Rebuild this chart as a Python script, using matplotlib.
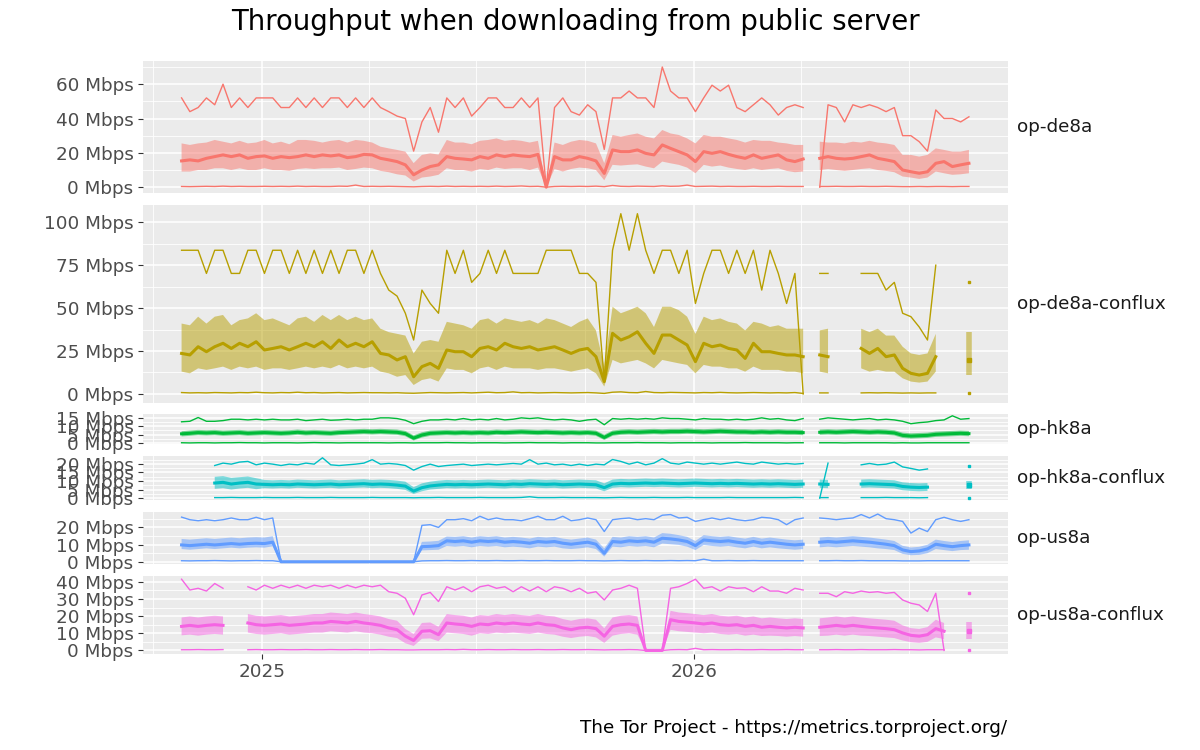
import numpy as np
import matplotlib
matplotlib.use('Agg')
from matplotlib import pyplot as plt
from matplotlib.ticker import MultipleLocator, FuncFormatter

nan = float('nan')

# weekly samples, first week = 2024-10-25
start_date = '2024-10-25'
n_weeks = 96

servers = ['op-de8a', 'op-de8a-conflux', 'op-hk8a', 'op-hk8a-conflux', 'op-us8a', 'op-us8a-conflux']
colors = ['#F8766D', '#B79F00', '#00BA38', '#00BFC4', '#619CFF', '#F564E3']
y_steps = [20, 25, 5, 5, 10, 10]
year_ticks = ['2025-01-01', '2026-01-01']
year_labels = ['2025', '2026']
quarter_lines = ['2024-10-01', '2025-04-01', '2025-07-01', '2025-10-01', '2026-04-01', '2026-07-01']

# ---- op-de8a
de8a_max = [52, 44, 46.4, 52, 48, 60, 46.4, 52, 46.4, 52, 52, 52,
            46.4, 46.4, 52, 46.4, 52, 46.4, 52, 52, 46.4, 52, 46.4, 52,
            46.4, 44, 41.4, 40, 21, 38, 46.4, 32, 52, 46.4, 52, 41.4,
            46.4, 52, 52, 46.4, 46.4, 52, 46.4, 52, 0, 46.4, 52, 44,
            42, 48, 44, 22, 52, 52, 56, 52, 52, 46.4, 70, 56,
            52, 52, 44, 52, 59.4, 56, 59.4, 46.4, 44, 48, 52, 48,
            42, 46.4, 48, 46.4, nan, 0, 48, 46.4, 38, 48, 46.4, 48,
            46.4, 44, 46.4, 30, 30, 26.5, 21, 45, 40, 40, 38, 41]
de8a_q3 = [25.5, 24.6, 25.5, 26, 27.5, 26.5, 25.5, 27, 25.5, 26, 27.5, 25.5,
           26.5, 25, 27.5, 27.5, 27, 26, 27, 27.5, 26, 27.5, 27, 26,
           23.6, 22.6, 21.7, 20.7, 14, 18.8, 19.7, 19, 27.5, 26, 26, 25,
           27, 27.5, 28.4, 27, 27.5, 27, 26, 27, 0, 26, 24.6, 26.5,
           27.5, 27, 25.5, 14, 30.4, 29.4, 30.4, 31.3, 29.4, 28.4, 33.3, 31.3,
           30.4, 28.4, 25.5, 30.4, 29.4, 29.4, 28.4, 27.5, 26, 27.5, 27, 27,
           26, 25.5, 24.6, 24.6, nan, 26.5, 26, 26, 25.5, 26.5, 26, 27,
           26, 25.5, 24.6, 18.8, 18.8, 17.8, 18.8, 22.6, 21.7, 20.7, 20.7, 21.7]
de8a_med = [15.3, 15.9, 15.3, 16.8, 17.8, 18.8, 17.8, 18.8, 16.8, 17.8, 18.2, 16.8,
            17.8, 17.2, 17.8, 18.8, 17.8, 18.8, 18.2, 18.8, 17.2, 17.8, 19.1, 18.8,
            16.8, 15.9, 14.9, 13, 7.2, 10, 12, 13, 17.8, 16.8, 16.4, 15.9,
            17.8, 16.8, 18.8, 17.8, 18.8, 18.2, 17.8, 19.1, 0, 17.8, 15.9, 15.9,
            17.8, 16.8, 15.3, 8, 21.7, 20.7, 20.7, 21.7, 19.7, 18.8, 24.6, 22.6,
            20.7, 18.8, 14.9, 20.7, 19.7, 20.7, 19.1, 17.8, 16.8, 18.8, 16.8, 17.8,
            18.8, 15.9, 14.9, 16.4, nan, 16.8, 17.8, 16.8, 16.4, 16.8, 17.8, 18.8,
            16.8, 15.9, 14.9, 10, 9, 8.1, 9, 13.9, 14.9, 12, 13, 13.9]
de8a_q1 = [9.1, 9.1, 10, 10, 11, 11, 10, 11, 10, 10, 11, 10,
           10, 9.5, 10.6, 11, 10.6, 11, 11, 11.4, 10, 10.6, 11.4, 11,
           9.5, 8.7, 7.5, 6.8, 3.3, 5.6, 6.2, 7.2, 11, 10, 10, 9.1,
           10.6, 10, 11.4, 10.6, 11, 11, 10, 11.4, 0, 10.6, 9.1, 10.6,
           11.4, 11, 10, 4, 13, 12.6, 13, 13.3, 12, 11, 14.9, 13.9,
           13, 11.4, 8.1, 13, 12, 12.6, 11.4, 10.6, 10, 11, 10, 10.6,
           11, 9.5, 8.7, 9.1, nan, 10, 10.6, 10, 9.5, 10, 10.6, 11,
           10, 9.5, 8.7, 6.2, 5.6, 4.8, 5.6, 9.1, 8.1, 7.2, 7.5, 8.1]
de8a_min = [0.4, 0.3, 0.4, 0.5, 0.4, 0.6, 0.4, 0.5, 0.4, 0.4, 0.5, 0.4,
            0.5, 0.4, 0.6, 0.4, 0.5, 0.4, 0.4, 0.6, 0.5, 1.2, 0.4, 0.5,
            0.4, 0.5, 0.4, 0.3, 0.2, 0.4, 0.5, 0.4, 0.6, 0.4, 0.5, 0.4,
            0.5, 0.4, 0.6, 0.4, 0.5, 0.7, 0.4, 0.5, 0, 0.4, 0.5, 0.4,
            0.5, 0.4, 0.6, 0.3, 1.0, 0.5, 0.4, 0.6, 0.5, 0.4, 0.8, 0.5,
            0.6, 1.2, 0.4, 0.5, 0.6, 0.4, 0.5, 0.4, 0.4, 0.5, 0.4, 0.4,
            0.5, 0.4, 0.4, 0.4, nan, 0.4, 0.4, 0.5, 0.4, 0.4, 0.5, 0.4,
            0.4, 0.5, 0.4, 0.3, 0.3, 0.4, 0.3, 0.4, 0.4, 0.3, 0.4, 0.4]

# ---- op-de8a-conflux
de8ac_max = [83.7, 83.7, 83.7, 70.2, 83.7, 83.7, 70.2, 70.2, 83.7, 83.7, 70.2, 83.7,
             83.7, 70.2, 83.7, 70.2, 83.7, 70.2, 83.7, 70.2, 83.7, 83.7, 70.2, 83.7,
             70.2, 60.5, 57, 47, 31.4, 60.5, 52.7, 47, 83.7, 70.2, 83.7, 65,
             70.2, 83.7, 70.2, 83.7, 70.2, 70.2, 70.2, 70.2, 83.7, 83.7, 83.7, 83.7,
             70.2, 70.2, 65, 8, 83.7, 105, 83.7, 105, 83.7, 70.2, 83.7, 83.7,
             70.2, 83.7, 52.7, 70.2, 83.7, 83.7, 70.2, 83.7, 70.2, 83.7, 60.5, 83.7,
             70.2, 52.7, 70.2, 0, nan, 70.2, 70.2, nan, nan, nan, 70.2, 70.2,
             70.2, 60.5, 65, 47, 45, 39, 31.4, 75, nan, nan, nan, 65]
de8ac_q3 = [41, 40, 45, 41, 45, 46, 40, 43, 44, 47, 43, 44,
            42, 40, 44, 45, 42, 46, 43, 46, 43, 45, 43, 44,
            38, 36, 35, 34, 23.6, 30.4, 31.4, 30.4, 42, 41, 40, 38,
            43, 44, 41, 44, 43, 42, 43, 41, 44, 43, 41, 39,
            42, 44, 37, 15.9, 50.8, 47, 48.8, 50.8, 47, 39, 50.8, 50.8,
            48.8, 45, 35, 45, 43, 44, 42, 41, 37, 42, 41, 39,
            40, 38, 38, 38, nan, 37, 38, nan, nan, nan, 38, 36,
            38, 34, 34, 27.5, 23.6, 22.7, 23.6, 35, nan, nan, nan, 36]
de8ac_med = [23.6, 22.7, 27.5, 24.6, 27.5, 29.5, 26.5, 29.5, 27.5, 30.4, 25.6, 26.5,
             27.5, 25.6, 27.5, 29.5, 27.5, 30.4, 26.5, 31.4, 27.5, 29.5, 27.5, 30.4,
             23.6, 22.7, 19.8, 21.7, 10, 15.9, 17.8, 14.9, 25.6, 24.6, 24.6, 21.7,
             26.5, 27.5, 25.6, 29.5, 27.5, 26.5, 27.5, 25.6, 26.5, 27.5, 25.6, 23.6,
             25.6, 26.5, 21.7, 7.2, 35.3, 31.4, 33.3, 36.2, 29.5, 23.6, 34.3, 34.3,
             31.4, 28.5, 18.8, 29.5, 27.5, 28.5, 26.5, 25.6, 20.7, 29.5, 24.6, 24.6,
             23.6, 22.7, 22.7, 21.7, nan, 22.7, 21.7, nan, nan, nan, 26.5, 23.6,
             26.5, 21.7, 22.7, 14.9, 12, 11, 12, 21.7, nan, nan, nan, 19.8]
de8ac_q1 = [13, 12, 14.9, 14, 14.9, 15.9, 14, 15.9, 14.9, 15.9, 14, 14.9,
            14.9, 14, 14.9, 15.9, 14.9, 15.9, 14.9, 16.9, 14.9, 15.9, 14.9, 15.9,
            13, 12, 10, 11, 5.2, 8.1, 9.1, 7.2, 14.9, 14, 14, 12,
            14.9, 15.9, 14, 15.9, 14.9, 14.9, 14.9, 14, 14.9, 14.9, 14, 13,
            14, 14.9, 12, 4.3, 19.8, 17.8, 18.8, 19.8, 17.8, 14.9, 19.8, 18.8,
            17.8, 16.9, 12, 16.9, 15.9, 15.9, 14.9, 14.9, 13, 15.9, 14, 14,
            14, 13, 13, 12, nan, 13, 12, nan, nan, nan, 14.9, 13,
            14, 13, 13, 9.1, 7.2, 6.6, 7.2, 13, nan, nan, nan, 11]
de8ac_min = [0.8, 0.6, 0.7, 0.6, 0.8, 0.7, 0.6, 0.8, 0.7, 1.0, 0.7, 0.6,
             0.8, 0.7, 1.0, 0.7, 0.8, 0.6, 0.7, 0.8, 0.6, 0.7, 0.8, 0.7,
             0.7, 0.6, 0.7, 0.5, 0.4, 0.6, 0.8, 0.7, 0.6, 0.7, 0.8, 0.6,
             0.8, 1.0, 0.7, 0.8, 1.2, 0.7, 0.8, 0.6, 0.7, 0.8, 0.7, 0.6,
             0.7, 0.8, 0.6, 0.3, 1.0, 1.2, 0.8, 0.7, 1.4, 0.8, 0.7, 0.9,
             0.8, 0.7, 0.6, 0.8, 0.7, 0.9, 0.7, 0.6, 0.7, 0.8, 0.7, 0.6,
             0.7, 0.6, 0.8, 0.3, nan, 0.6, 0.6, nan, nan, nan, 0.6, 0.7,
             0.6, 0.7, 0.6, 0.5, 0.6, 0.5, 0.6, 0.6, nan, nan, nan, 0.5]

# ---- op-hk8a
hk8a_max = [12.5, 12.8, 15.0, 12.8, 12.8, 13.2, 14.0, 14.0, 13.6, 14.0, 13.6, 14.0,
            13.6, 13.6, 14.0, 13.2, 13.6, 14.0, 13.4, 13.6, 14.0, 13.6, 14.0, 14.0,
            14.8, 14.8, 14.4, 13.4, 11.4, 12.8, 13.6, 13.6, 14.0, 13.6, 14.4, 13.6,
            14.0, 13.6, 14.4, 13.6, 14.0, 14.8, 14.4, 14.8, 14.0, 13.6, 14.0, 13.6,
            12.8, 13.6, 14.0, 10.8, 14.4, 14.0, 14.4, 14.0, 14.4, 14.0, 14.8, 14.4,
            14.4, 14.0, 13.6, 14.4, 14.0, 14.0, 13.6, 14.0, 13.6, 14.0, 14.8, 14.0,
            14.4, 13.6, 13.2, 14.4, nan, 14.0, 14.8, 14.4, 14.0, 13.6, 14.0, 14.4,
            13.6, 14.0, 13.6, 12.8, 11.4, 12.0, 12.4, 13.2, 13.6, 16.0, 14.0, 14.4]
hk8a_q3 = [7.0, 7.4, 7.8, 7.6, 7.8, 7.4, 7.6, 7.8, 7.4, 7.6, 7.8, 7.6,
           7.4, 7.6, 8.0, 7.6, 7.8, 7.6, 7.4, 7.8, 8.0, 8.2, 8.4, 8.2,
           8.4, 8.2, 8.0, 7.2, 4.6, 6.4, 7.4, 7.6, 7.8, 7.6, 7.8, 7.6,
           7.8, 7.6, 8.0, 7.8, 8.0, 8.2, 8.0, 7.8, 8.0, 7.8, 7.6, 7.8,
           7.6, 7.8, 7.4, 5.0, 7.4, 8.0, 8.2, 8.0, 8.2, 8.4, 8.2, 8.4,
           8.4, 8.6, 8.4, 8.2, 8.4, 8.6, 8.4, 8.2, 8.2, 8.0, 8.2, 8.0,
           8.2, 8.0, 8.0, 7.8, nan, 8.0, 8.2, 8.0, 8.2, 8.4, 8.2, 8.0,
           8.2, 8.0, 7.6, 6.2, 5.8, 6.0, 6.2, 6.8, 7.0, 7.2, 7.4, 7.2]
hk8a_med = [5.5, 5.8, 6.2, 6.0, 6.2, 5.8, 6.0, 6.2, 5.8, 6.0, 6.2, 6.0,
            5.8, 6.0, 6.4, 6.0, 6.2, 6.0, 5.8, 6.2, 6.4, 6.6, 6.8, 6.6,
            6.8, 6.6, 6.4, 5.6, 3.0, 4.8, 5.8, 6.0, 6.2, 6.0, 6.2, 6.0,
            6.2, 6.0, 6.4, 6.2, 6.4, 6.6, 6.4, 6.2, 6.4, 6.2, 6.0, 6.2,
            6.0, 6.2, 5.8, 3.4, 5.8, 6.4, 6.6, 6.4, 6.6, 6.8, 6.6, 6.8,
            6.8, 7.0, 6.8, 6.6, 6.8, 7.0, 6.8, 6.6, 6.6, 6.4, 6.6, 6.4,
            6.6, 6.4, 6.4, 6.2, nan, 6.4, 6.6, 6.4, 6.6, 6.8, 6.6, 6.4,
            6.6, 6.4, 6.0, 4.6, 4.2, 4.4, 4.6, 5.2, 5.4, 5.6, 5.8, 5.6]
hk8a_q1 = [4.0, 4.3, 4.7, 4.5, 4.7, 4.3, 4.5, 4.7, 4.3, 4.5, 4.7, 4.5,
           4.3, 4.5, 4.9, 4.5, 4.7, 4.5, 4.3, 4.7, 4.9, 5.1, 5.3, 5.1,
           5.3, 5.1, 4.9, 4.1, 1.6, 3.3, 4.3, 4.5, 4.7, 4.5, 4.7, 4.5,
           4.7, 4.5, 4.9, 4.7, 4.9, 5.1, 4.9, 4.7, 4.9, 4.7, 4.5, 4.7,
           4.5, 4.7, 4.3, 1.9, 4.3, 4.9, 5.1, 4.9, 5.1, 5.3, 5.1, 5.3,
           5.3, 5.5, 5.3, 5.1, 5.3, 5.5, 5.3, 5.1, 5.1, 4.9, 5.1, 4.9,
           5.1, 4.9, 4.9, 4.7, nan, 4.9, 5.1, 4.9, 5.1, 5.3, 5.1, 4.9,
           5.1, 4.9, 4.5, 3.1, 2.7, 2.9, 3.1, 3.7, 3.9, 4.1, 4.3, 4.1]
hk8a_min = [0.3, 0.2, 0.3, 0.3, 0.2, 0.3, 0.3, 0.4, 0.3, 0.3, 0.2, 0.3,
            0.3, 0.3, 0.2, 0.3, 0.4, 0.3, 0.3, 0.2, 0.3, 0.3, 0.3, 0.3,
            0.3, 0.2, 0.3, 0.3, 0.2, 0.3, 0.3, 0.3, 0.4, 0.3, 0.3, 0.2,
            0.3, 0.3, 0.3, 0.2, 0.3, 0.3, 0.4, 0.3, 0.3, 0.3, 0.2, 0.3,
            0.3, 0.3, 0.2, 0.2, 0.3, 0.3, 0.3, 0.4, 0.3, 0.3, 0.3, 0.2,
            0.3, 0.3, 0.3, 0.3, 0.2, 0.3, 0.3, 0.3, 0.4, 0.3, 0.3, 0.3,
            0.3, 0.2, 0.3, 0.3, nan, 0.3, 0.3, 0.3, 0.2, 0.3, 0.3, 0.3,
            0.3, 0.3, 0.2, 0.3, 0.2, 0.2, 0.3, 0.3, 0.3, 0.3, 0.3, 0.3]

# ---- op-hk8a-conflux
hk8ac_max = [nan, nan, nan, nan, 19.0, 20.4, 19.8, 21.0, 21.4, 19.4, 20.4, 19.8,
             19.0, 19.8, 19.4, 20.4, 19.8, 23.5, 19.4, 19.0, 19.4, 19.8, 20.4, 22.4,
             19.8, 20.2, 19.8, 19.0, 16.3, 18.4, 19.8, 18.4, 19.0, 19.4, 19.8, 19.0,
             19.4, 19.8, 19.4, 19.8, 20.2, 19.8, 22.4, 19.8, 20.4, 19.4, 19.8, 19.0,
             19.8, 19.0, 19.8, 19.4, 22.5, 21.4, 19.8, 21.0, 19.4, 20.4, 23.0, 20.4,
             19.8, 21.0, 20.4, 19.8, 20.4, 19.8, 20.4, 21.0, 20.2, 19.8, 21.0, 20.4,
             19.8, 20.2, 19.8, 20.2, nan, 0.0, 20.4, nan, nan, nan, 19.4, 20.2,
             19.4, 19.8, 21.0, 18.2, 17.3, 16.3, 17.0, nan, nan, nan, nan, 19.0]
hk8ac_q3 = [nan, nan, nan, nan, 12.4, 12.8, 11.8, 12.2, 12.6, 11.6, 10.6, 10.4,
            10.6, 10.4, 10.8, 10.6, 10.4, 10.6, 10.8, 10.4, 10.6, 10.8, 11.0, 10.6,
            10.8, 10.6, 10.2, 9.6, 6.4, 8.6, 9.6, 10.2, 10.6, 10.4, 10.6, 10.4,
            10.6, 10.8, 10.6, 10.4, 10.8, 10.6, 11.0, 10.8, 10.6, 10.8, 10.4, 10.6,
            10.8, 10.6, 10.4, 8.6, 10.8, 11.2, 11.0, 11.2, 11.4, 11.2, 11.4, 11.2,
            11.0, 11.2, 11.4, 11.2, 11.0, 11.2, 11.0, 11.2, 11.0, 10.8, 11.0, 10.8,
            11.0, 10.8, 10.6, 10.8, nan, 10.8, 10.6, nan, nan, nan, 10.8, 11.0,
            10.8, 10.6, 10.4, 9.2, 8.8, 8.6, 8.8, nan, nan, nan, nan, 10.2]
hk8ac_med = [nan, nan, nan, nan, 8.8, 9.2, 8.2, 8.8, 9.2, 8.2, 8.0, 7.8,
             8.0, 7.8, 8.2, 8.0, 7.8, 8.0, 8.2, 7.8, 8.0, 8.2, 8.4, 8.0,
             8.2, 8.0, 7.6, 7.0, 4.1, 6.1, 7.1, 7.6, 8.0, 7.8, 8.0, 7.8,
             8.0, 8.2, 8.0, 7.8, 8.2, 8.0, 8.4, 8.2, 8.0, 8.2, 7.8, 8.0,
             8.2, 8.0, 7.8, 6.1, 8.2, 8.6, 8.4, 8.6, 8.8, 8.6, 8.8, 8.6,
             8.4, 8.6, 8.8, 8.6, 8.4, 8.6, 8.4, 8.6, 8.4, 8.2, 8.4, 8.2,
             8.4, 8.2, 8.0, 8.2, nan, 8.2, 8.0, nan, nan, nan, 8.2, 8.4,
             8.2, 8.0, 7.8, 6.8, 6.4, 6.2, 6.4, nan, nan, nan, nan, 7.6]
hk8ac_q1 = [nan, nan, nan, nan, 5.4, 5.8, 5.0, 5.6, 6.0, 5.2, 5.8, 5.6,
            5.8, 5.6, 6.0, 5.8, 5.6, 5.8, 6.0, 5.6, 5.8, 6.0, 6.2, 5.8,
            6.0, 5.8, 5.4, 4.8, 2.4, 4.0, 5.0, 5.4, 5.8, 5.6, 5.8, 5.6,
            5.8, 6.0, 5.8, 5.6, 6.0, 5.8, 6.2, 6.0, 5.8, 6.0, 5.6, 5.8,
            6.0, 5.8, 5.6, 4.0, 6.0, 6.4, 6.2, 6.4, 6.6, 6.4, 6.6, 6.4,
            6.2, 6.4, 6.6, 6.4, 6.2, 6.4, 6.2, 6.4, 6.2, 6.0, 6.2, 6.0,
            6.2, 6.0, 5.8, 6.0, nan, 6.0, 5.8, nan, nan, nan, 6.0, 6.2,
            6.0, 5.8, 5.6, 4.6, 4.2, 4.0, 4.2, nan, nan, nan, nan, 5.4]
hk8ac_min = [nan, nan, nan, nan, 0.3, 0.3, 0.4, 0.3, 0.3, 0.3, 0.4, 0.3,
             0.3, 0.3, 0.4, 0.3, 0.3, 0.3, 0.4, 0.3, 0.3, 0.3, 0.3, 0.4,
             0.3, 0.3, 0.3, 0.3, 0.2, 0.3, 0.3, 0.4, 0.3, 0.3, 0.3, 0.3,
             0.4, 0.3, 0.3, 0.3, 0.3, 0.4, 0.8, 0.3, 0.3, 0.3, 0.4, 0.3,
             0.3, 0.3, 0.3, 0.2, 0.3, 0.4, 0.3, 0.3, 0.3, 0.4, 0.3, 0.3,
             0.3, 0.4, 0.3, 0.3, 0.3, 0.3, 0.4, 0.3, 0.3, 0.3, 0.3, 0.3,
             0.3, 0.3, 0.4, 0.3, nan, 0.3, 0.3, nan, nan, nan, 0.3, 0.3,
             0.3, 0.4, 0.3, 0.3, 0.3, 0.2, 0.3, nan, nan, nan, nan, 0.3]

# ---- op-us8a
us8a_max = [26.0, 24.5, 23.9, 24.5, 23.9, 24.5, 25.5, 24.5, 24.5, 25.9, 24.5, 25.5,
            0, 0, 0, 0, 0, 0, 0, 0, 0, 0, 0, 0,
            0, 0, 0, 0, 0, 21.2, 21.6, 20.0, 24.5, 24.5, 25.1, 23.9,
            26.5, 24.5, 25.5, 24.5, 24.5, 23.9, 25.1, 26.5, 24.5, 24.5, 26.5, 23.9,
            24.5, 25.5, 24.5, 17.6, 24.5, 25.1, 25.5, 24.5, 25.1, 24.5, 27.1, 27.5,
            25.5, 25.9, 23.5, 24.5, 25.5, 24.5, 25.5, 24.5, 23.9, 24.5, 25.9, 25.5,
            24.5, 21.6, 24.5, 25.5, nan, 25.5, 25.1, 24.5, 25.1, 25.5, 27.5, 25.5,
            27.8, 25.1, 24.5, 23.5, 16.7, 19.6, 17.6, 24.5, 25.9, 24.5, 23.5, 24.5]
us8a_q3 = [13.3, 12.9, 13.3, 13.7, 13.3, 13.7, 14.1, 13.7, 14.1, 14.3, 14.1, 14.9,
           0, 0, 0, 0, 0, 0, 0, 0, 0, 0, 0, 0,
           0, 0, 0, 0, 0, 11.6, 11.8, 12.2, 14.7, 14.5, 14.9, 14.1,
           14.9, 14.5, 14.9, 14.1, 14.5, 14.1, 13.5, 14.5, 14.1, 14.5, 13.5, 12.9,
           13.5, 14.1, 12.9, 7.8, 14.5, 14.1, 14.9, 14.5, 14.9, 14.1, 16.7, 16.3,
           15.5, 14.5, 12.1, 15.5, 14.9, 14.5, 14.9, 14.1, 13.5, 14.5, 13.5, 14.1,
           13.5, 12.9, 12.5, 12.9, nan, 14.1, 14.5, 14.1, 14.5, 14.9, 14.5, 14.1,
           13.5, 12.9, 12.1, 9.3, 8.3, 8.7, 9.9, 12.9, 12.1, 11.5, 12.1, 12.5]
us8a_med = [9.8, 9.4, 9.8, 10.2, 9.8, 10.2, 10.6, 10.2, 10.6, 10.8, 10.6, 11.4,
            0, 0, 0, 0, 0, 0, 0, 0, 0, 0, 0, 0,
            0, 0, 0, 0, 0, 8.8, 9.0, 9.4, 12.2, 11.8, 12.2, 11.4,
            12.2, 11.8, 12.2, 11.4, 11.8, 11.4, 10.8, 11.8, 11.4, 11.8, 10.8, 10.2,
            10.8, 11.4, 10.2, 4.9, 11.8, 11.4, 12.2, 11.8, 12.2, 11.4, 13.7, 13.3,
            12.7, 11.8, 9.4, 12.7, 12.2, 11.8, 12.2, 11.4, 10.8, 11.8, 10.8, 11.4,
            10.8, 10.2, 9.8, 10.2, nan, 11.4, 11.8, 11.4, 11.8, 12.2, 11.8, 11.4,
            10.8, 10.2, 9.4, 6.9, 5.9, 6.3, 7.5, 10.2, 9.4, 8.8, 9.4, 9.8]
us8a_q1 = [7.4, 7.0, 7.4, 7.8, 7.4, 7.8, 8.2, 7.8, 8.2, 8.4, 8.2, 9.0,
           0, 0, 0, 0, 0, 0, 0, 0, 0, 0, 0, 0,
           0, 0, 0, 0, 0, 6.6, 6.8, 7.0, 9.2, 8.8, 9.2, 8.4,
           9.2, 8.8, 9.2, 8.4, 8.8, 8.4, 7.8, 8.8, 8.4, 8.8, 7.8, 7.4,
           7.8, 8.4, 7.4, 3.0, 8.8, 8.4, 9.2, 8.8, 9.2, 8.4, 10.6, 10.2,
           9.8, 8.8, 6.8, 9.8, 9.2, 8.8, 9.2, 8.4, 7.8, 8.8, 7.8, 8.4,
           7.8, 7.4, 7.0, 7.4, nan, 8.4, 8.8, 8.4, 8.8, 9.2, 8.8, 8.4,
           7.8, 7.4, 6.8, 4.6, 3.8, 4.0, 5.0, 7.4, 6.8, 6.2, 6.8, 7.0]
us8a_min = [0.6, 0.5, 0.6, 0.6, 0.7, 0.6, 0.5, 0.6, 0.6, 0.7, 0.6, 0.6,
            0, 0, 0, 0, 0, 0, 0, 0, 0, 0, 0, 0,
            0, 0, 0, 0, 0, 0.5, 0.6, 0.6, 0.7, 0.6, 0.6, 0.7,
            0.6, 0.6, 0.7, 0.6, 0.6, 0.7, 0.6, 0.6, 0.7, 0.6, 0.6, 0.6,
            0.7, 0.6, 0.6, 0.5, 0.6, 0.7, 0.6, 0.6, 0.7, 0.6, 0.6, 0.7,
            0.6, 0.7, 0.6, 1.5, 0.6, 0.6, 0.7, 0.6, 0.6, 0.7, 0.6, 0.6,
            0.6, 0.6, 0.6, 0.6, nan, 0.6, 0.6, 0.7, 0.6, 0.6, 0.7, 0.6,
            0.6, 0.6, 0.6, 0.5, 0.5, 0.5, 0.6, 0.6, 0.6, 0.6, 0.6, 0.6]

# ---- op-us8a-conflux
us8ac_max = [41.5, 35.2, 36.2, 34.6, 39.0, 36.2, nan, nan, 37.1, 35.2, 38.0, 36.2,
             38.0, 36.5, 38.0, 36.2, 38.0, 37.1, 38.0, 36.2, 38.0, 36.5, 38.0, 37.1,
             38.0, 34.2, 33.3, 30.4, 20.8, 32.3, 33.8, 28.5, 37.1, 35.2, 37.1, 34.2,
             37.1, 38.0, 36.2, 37.1, 34.2, 37.1, 34.6, 37.1, 34.2, 37.1, 36.2, 34.2,
             36.2, 33.3, 34.2, 29.4, 35.2, 36.2, 38.0, 36.2, 0, 0, 0, 36.2,
             37.1, 39.0, 41.5, 36.2, 37.1, 34.6, 37.1, 36.2, 36.5, 34.2, 37.1, 34.6,
             34.6, 33.3, 36.2, 35.2, nan, 33.3, 33.3, 31.3, 34.2, 33.3, 34.6, 33.8,
             34.2, 33.3, 33.8, 29.4, 27.5, 26.5, 22.7, 33.3, 0, nan, nan, 33.3]
us8ac_q3 = [19.2, 19.8, 19.2, 19.8, 20.2, 19.8, nan, nan, 21.2, 20.2, 19.8, 20.2,
            20.6, 19.8, 20.2, 20.6, 21.2, 21.2, 22.1, 21.7, 21.2, 22.1, 21.2, 20.6,
            19.8, 18.3, 17.3, 12.5, 9.6, 16.0, 16.3, 13.8, 21.2, 20.6, 20.2, 19.2,
            20.6, 20.2, 21.2, 20.6, 21.2, 20.6, 20.2, 21.2, 20.2, 19.8, 18.3, 17.3,
            18.3, 18.7, 17.9, 12.9, 19.2, 20.2, 20.6, 19.8, 0, 0, 0, 23.1,
            22.1, 21.7, 21.2, 20.6, 21.2, 20.2, 19.8, 20.2, 19.2, 19.8, 18.7, 19.2,
            18.7, 18.3, 18.7, 18.3, nan, 18.7, 19.2, 19.8, 19.2, 19.8, 19.2, 18.7,
            18.3, 17.9, 17.3, 14.6, 13.0, 12.5, 13.6, 17.9, 16.0, nan, nan, 16.3]
us8ac_med = [14.0, 14.6, 14.0, 14.6, 15.0, 14.6, nan, nan, 16.0, 15.0, 14.6, 15.0,
             15.4, 14.6, 15.0, 15.4, 16.0, 16.0, 16.9, 16.5, 16.0, 16.9, 16.0, 15.4,
             14.6, 13.1, 12.1, 8.3, 5.8, 11.2, 11.5, 9.2, 16.0, 15.4, 15.0, 14.0,
             15.4, 15.0, 16.0, 15.4, 16.0, 15.4, 15.0, 16.0, 15.0, 14.6, 13.1, 12.1,
             13.1, 13.5, 12.7, 8.3, 14.0, 15.0, 15.4, 14.6, 0, 0, 0, 17.9,
             16.9, 16.5, 16.0, 15.4, 16.0, 15.0, 14.6, 15.0, 14.0, 14.6, 13.5, 14.0,
             13.5, 13.1, 13.5, 13.1, nan, 13.5, 14.0, 14.6, 14.0, 14.6, 14.0, 13.5,
             13.1, 12.7, 12.1, 10.2, 8.8, 8.3, 9.2, 12.7, 11.2, nan, nan, 11.5]
us8ac_q1 = [8.8, 9.2, 8.6, 9.2, 9.6, 9.2, nan, nan, 10.4, 9.6, 9.2, 9.6,
            10.0, 9.2, 9.6, 10.0, 10.4, 10.4, 11.2, 10.8, 10.4, 11.2, 10.4, 10.0,
            9.2, 8.0, 7.2, 4.2, 2.6, 6.8, 7.0, 5.4, 10.4, 10.0, 9.6, 8.6,
            10.0, 9.6, 10.4, 10.0, 10.4, 10.0, 9.6, 10.4, 9.6, 9.2, 8.0, 7.2,
            8.0, 8.4, 7.6, 4.4, 8.6, 9.6, 10.0, 9.2, 0, 0, 0, 12.0,
            11.2, 10.8, 10.4, 10.0, 10.4, 9.6, 9.2, 9.6, 8.6, 9.2, 8.4, 8.6,
            8.4, 8.0, 8.4, 8.0, nan, 8.4, 8.6, 9.2, 8.6, 9.2, 8.6, 8.4,
            8.0, 7.6, 7.2, 5.8, 4.8, 4.4, 5.0, 7.6, 6.6, nan, nan, 6.8]
us8ac_min = [0.4, 0.4, 0.5, 0.4, 0.4, 0.5, nan, nan, 0.4, 0.5, 0.4, 0.4,
             0.5, 0.4, 0.4, 0.5, 0.4, 0.4, 0.5, 0.4, 0.4, 0.5, 0.4, 0.4,
             0.5, 0.4, 0.4, 0.3, 0.3, 0.4, 0.4, 0.4, 0.5, 0.4, 0.6, 0.4,
             0.4, 0.5, 0.4, 0.4, 0.5, 0.4, 0.4, 0.5, 0.4, 0.4, 0.5, 0.4,
             0.4, 0.5, 0.4, 0.3, 0.4, 0.4, 0.5, 0.4, 0, 0, 0, 0.4,
             0.5, 0.4, 1.2, 0.4, 0.5, 0.4, 0.4, 0.5, 0.4, 0.4, 0.5, 0.4,
             0.4, 0.5, 0.4, 0.4, nan, 0.4, 0.4, 0.5, 0.4, 0.4, 0.5, 0.4,
             0.4, 0.4, 0.5, 0.4, 0.4, 0.3, 0.4, 0.4, 0.4, nan, nan, 0.4]

series = {
    'op-de8a': (de8a_max, de8a_q3, de8a_med, de8a_q1, de8a_min),
    'op-de8a-conflux': (de8ac_max, de8ac_q3, de8ac_med, de8ac_q1, de8ac_min),
    'op-hk8a': (hk8a_max, hk8a_q3, hk8a_med, hk8a_q1, hk8a_min),
    'op-hk8a-conflux': (hk8ac_max, hk8ac_q3, hk8ac_med, hk8ac_q1, hk8ac_min),
    'op-us8a': (us8a_max, us8a_q3, us8a_med, us8a_q1, us8a_min),
    'op-us8a-conflux': (us8ac_max, us8ac_q3, us8ac_med, us8ac_q1, us8ac_min),
}

dates = np.datetime64(start_date) + np.arange(n_weeks) * np.timedelta64(7, 'D')
dates = dates.astype('datetime64[D]').astype(object)

# layout in pixels (figure 1200x750)
W, H = 1200.0, 750.0
left_px, right_px = 142.5, 1008.0
top_px, bottom_px, gap_px = 61.0, 654.0, 11.5

ylims = []
for name in servers:
    vals = np.concatenate([np.asarray(s, dtype=float) for s in series[name]])
    lo, hi = np.nanmin(vals), np.nanmax(vals)
    pad = 0.05 * (hi - lo)
    ylims.append((lo - pad, hi + pad))
spans = np.array([b - a for a, b in ylims])
panel_px = (bottom_px - top_px - gap_px * (len(servers) - 1)) * spans / spans.sum()

d0 = np.datetime64(start_date)
d1 = d0 + np.timedelta64(7 * (n_weeks - 1), 'D')
xpad = (d1 - d0) * 0.05
xlim = (d0 - xpad, d1 + xpad)

fig = plt.figure(figsize=(12, 7.5), dpi=100)
y = top_px
axes = []
for k, name in enumerate(servers):
    h = panel_px[k]
    ax = fig.add_axes([left_px / W, 1 - (y + h) / H, (right_px - left_px) / W, h / H])
    y += h + gap_px
    axes.append(ax)

    c = colors[k]
    mx, q3, md, q1, mn = [np.asarray(s, dtype=float) for s in series[name]]
    ax.fill_between(dates, q1, q3, color=c, alpha=0.5, lw=0)
    ax.plot(dates, mx, color=c, lw=1.0)
    ax.plot(dates, mn, color=c, lw=1.0)
    ax.plot(dates, md, color=c, lw=2.2)

    # points with no neighbours would vanish, draw them as short marks
    ok = ~np.isnan(md)
    prev_ok = np.r_[False, ok[:-1]]
    next_ok = np.r_[ok[1:], False]
    iso = ok & ~prev_ok & ~next_ok
    if iso.any():
        dd = np.array(dates, dtype=object)[iso]
        ax.vlines(dd, q1[iso], q3[iso], color=c, alpha=0.5, lw=4)
        ax.plot(dd, md[iso], 's', color=c, ms=3)
        ax.plot(dd, mx[iso], 's', color=c, ms=2)
        ax.plot(dd, mn[iso], 's', color=c, ms=2)

    ax.set_xlim(xlim[0].astype(object), xlim[1].astype(object))
    ax.set_ylim(*ylims[k])
    ax.set_facecolor('#EBEBEB')
    for s in ax.spines.values():
        s.set_visible(False)

    step = y_steps[k]
    ax.yaxis.set_major_locator(MultipleLocator(step))
    ax.yaxis.set_minor_locator(MultipleLocator(step / 2))
    ax.yaxis.set_major_formatter(FuncFormatter(lambda v, p: '{:g} Mbps'.format(v)))

    ax.set_xticks([np.datetime64(t).astype(object) for t in year_ticks])
    ax.set_xticks([np.datetime64(t).astype(object) for t in quarter_lines], minor=True)
    ax.set_xticklabels(year_labels)

    ax.grid(which='major', color='white', lw=1.1)
    ax.grid(which='minor', color='white', lw=0.6)
    ax.set_axisbelow(True)

    ax.tick_params(axis='y', which='major', length=3.5, width=0.8, color='#333333',
                   labelcolor='#4D4D4D', labelsize=13.2, pad=3)
    ax.tick_params(which='minor', length=0)
    if k < len(servers) - 1:
        ax.tick_params(axis='x', which='major', length=0, labelbottom=False)
    else:
        ax.tick_params(axis='x', which='major', length=3.5, width=0.8, color='#333333',
                       labelcolor='#4D4D4D', labelsize=13.2, pad=3)

    ax.annotate(name, xy=(1, 0.5), xycoords='axes fraction', xytext=(6.5, 0),
                textcoords='offset points', ha='left', va='center',
                fontsize=13.2, color='#1A1A1A')

fig.text(575 / W, 1 - 22 / H, 'Throughput when downloading from public server',
         ha='center', va='center', fontsize=19.8, color='black')
fig.text(1007 / W, 1 - 728 / H, 'The Tor Project - https://metrics.torproject.org/',
         ha='right', va='center', fontsize=13.2, color='black')

fig.savefig('out.png', dpi=100, facecolor='white')
plt.close(fig)
